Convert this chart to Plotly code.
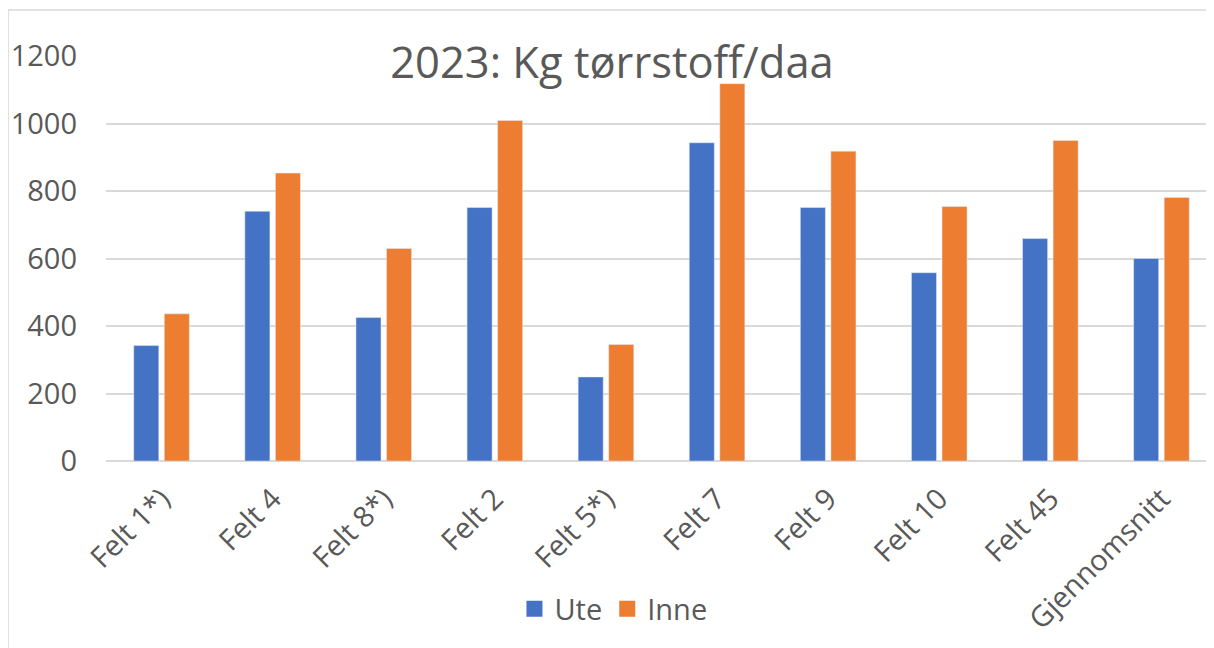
import plotly.graph_objects as go

categories = ["Felt 1*)", "Felt 4", "Felt 8*)", "Felt 2", "Felt 5*)",
              "Felt 7", "Felt 9", "Felt 10", "Felt 45", "Gjennomsnitt"]
ute = [342, 740, 425, 751, 249, 943, 751, 558, 659, 600]
inne = [436, 853, 630, 1009, 345, 1118, 918, 754, 950, 781]
y_ticks = [0, 200, 400, 600, 800, 1000, 1200]

BLUE = "#4472C4"
ORANGE = "#ED7D31"
TEXT = "#595959"
GRID = "#D9D9D9"
FONT = "Open Sans"
FS = 29

fig = go.Figure()
fig.add_trace(go.Bar(name="Ute", x=categories, y=ute, marker_color=BLUE, showlegend=False))
fig.add_trace(go.Bar(name="Inne", x=categories, y=inne, marker_color=ORANGE, showlegend=False))
# legend proxies
fig.add_trace(go.Scatter(name="Ute", x=[None], y=[None], mode="markers",
                         marker=dict(symbol="square", size=18, color=BLUE)))
fig.add_trace(go.Scatter(name="Inne", x=[None], y=[None], mode="markers",
                         marker=dict(symbol="square", size=18, color=ORANGE)))

fig.update_layout(
    width=1206, height=640,
    margin=dict(l=98, r=0, t=48, b=187, autoexpand=False),
    paper_bgcolor="white", plot_bgcolor="white",
    font=dict(family=FONT, color=TEXT, size=FS),
    barmode="group", bargap=0.45, bargroupgap=0.18,
    title=dict(text="2023: Kg tørrstoff/daa", x=0.5008, xref="container", xanchor="center",
               y=0.914, yref="container", yanchor="middle", automargin=False,
               font=dict(size=43.5, color=TEXT, family=FONT)),
    legend=dict(orientation="h", x=0.458, xanchor="center", y=-0.365, yanchor="middle",
                font=dict(size=FS, color=TEXT), itemwidth=30, tracegroupgap=0),
    xaxis=dict(type="category", range=[-0.5, 9.473], tickangle=-45, automargin=False,
               showgrid=False, showline=False, ticks="", ticklabelstandoff=14,
               tickfont=dict(size=FS, color=TEXT)),
    yaxis=dict(range=[0, 1200], tickvals=y_ticks, showgrid=True, gridcolor=GRID, gridwidth=1.5,
               zeroline=True, zerolinecolor=GRID, zerolinewidth=1.5, showline=False, automargin=False,
               ticks="", ticklabelstandoff=28, tickfont=dict(size=FS, color=TEXT)),
    shapes=[
        dict(type="line", xref="paper", yref="paper", x0=-0.0884, x1=-0.0884, y0=1.1136, y1=-0.5,
             line=dict(color=GRID, width=1.5)),
        dict(type="line", xref="paper", yref="paper", x0=-0.0884, x1=1.0, y0=1.1136, y1=1.1136,
             line=dict(color=GRID, width=1.5)),
    ],
)

fig.write_html("out.html")
